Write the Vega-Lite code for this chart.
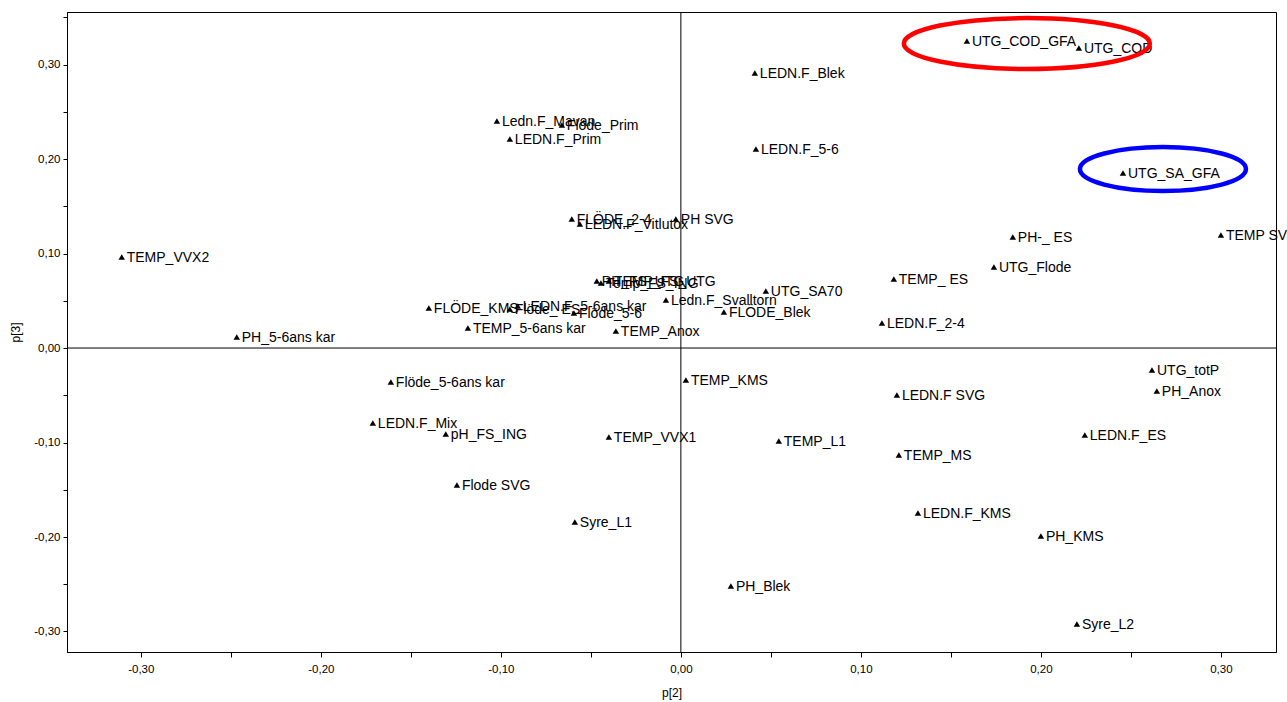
{
  "$schema": "https://vega.github.io/schema/vega-lite/v6.json",
  "width": 1209,
  "height": 640,
  "autosize": {"type": "none"},
  "padding": {"left": 67, "top": 12, "right": 11, "bottom": 50},
  "background": "white",
  "config": {
    "view": {"stroke": "black", "strokeWidth": 1},
    "font": "Liberation Sans",
    "axis": {
      "grid": false,
      "domainColor": "black",
      "tickColor": "black",
      "labelColor": "black",
      "titleColor": "black",
      "labelFont": "Liberation Sans",
      "titleFont": "Liberation Sans",
      "labelFontSize": 11.5,
      "titleFontSize": 12,
      "titleFontWeight": "normal"
    }
  },
  "datasets": {
    "loadings": [
      {"name": "UTG_COD_GFA", "p2": 0.1589, "p3": 0.3249},
      {"name": "UTG_COD", "p2": 0.2211, "p3": 0.3175},
      {"name": "LEDN.F_Blek", "p2": 0.0411, "p3": 0.2910},
      {"name": "Ledn.F_Mavan", "p2": -0.1022, "p3": 0.2402},
      {"name": "Flöde_Prim", "p2": -0.0661, "p3": 0.2360},
      {"name": "LEDN.F_Prim", "p2": -0.0950, "p3": 0.2212},
      {"name": "LEDN.F_5-6", "p2": 0.0417, "p3": 0.2106},
      {"name": "UTG_SA_GFA", "p2": 0.2456, "p3": 0.1852},
      {"name": "FLÖDE_2-4", "p2": -0.0606, "p3": 0.1365},
      {"name": "LEDN.F_Vitlutox", "p2": -0.0561, "p3": 0.1312},
      {"name": "PH SVG", "p2": -0.0028, "p3": 0.1365},
      {"name": "TEMP_VVX2", "p2": -0.3106, "p3": 0.0963},
      {"name": "PH-_ ES", "p2": 0.1844, "p3": 0.1175},
      {"name": "TEMP SVG", "p2": 0.3000, "p3": 0.1196},
      {"name": "UTG_Flode", "p2": 0.1739, "p3": 0.0857},
      {"name": "PH_FS_UTG", "p2": -0.0467, "p3": 0.0709},
      {"name": "TEMP_FS_UTG", "p2": -0.0400, "p3": 0.0709},
      {"name": "Temp_FS_ING", "p2": -0.0444, "p3": 0.0688},
      {"name": "UTG_SA70", "p2": 0.0472, "p3": 0.0603},
      {"name": "TEMP_ ES", "p2": 0.1183, "p3": 0.0730},
      {"name": "Ledn.F_Svalltorn", "p2": -0.0083, "p3": 0.0508},
      {"name": "FLÖDE_KMS", "p2": -0.1400, "p3": 0.0423},
      {"name": "Flöde_ ES", "p2": -0.0950, "p3": 0.0413},
      {"name": "LEDN.F_5-6ans kar", "p2": -0.0906, "p3": 0.0444},
      {"name": "Flöde_5-6", "p2": -0.0594, "p3": 0.0370},
      {"name": "FLÖDE_Blek", "p2": 0.0239, "p3": 0.0381},
      {"name": "TEMP_5-6ans kar", "p2": -0.1183, "p3": 0.0212},
      {"name": "TEMP_Anox", "p2": -0.0361, "p3": 0.0180},
      {"name": "LEDN.F_2-4", "p2": 0.1117, "p3": 0.0265},
      {"name": "PH_5-6ans kar", "p2": -0.2467, "p3": 0.0116},
      {"name": "UTG_totP", "p2": 0.2617, "p3": -0.0233},
      {"name": "PH_Anox", "p2": 0.2644, "p3": -0.0455},
      {"name": "Flöde_5-6ans kar", "p2": -0.1611, "p3": -0.0360},
      {"name": "TEMP_KMS", "p2": 0.0028, "p3": -0.0339},
      {"name": "LEDN.F SVG", "p2": 0.1200, "p3": -0.0497},
      {"name": "LEDN.F_Mix", "p2": -0.1711, "p3": -0.0794},
      {"name": "pH_FS_ING", "p2": -0.1306, "p3": -0.0910},
      {"name": "TEMP_VVX1", "p2": -0.0400, "p3": -0.0942},
      {"name": "TEMP_L1", "p2": 0.0544, "p3": -0.0984},
      {"name": "LEDN.F_ES", "p2": 0.2244, "p3": -0.0921},
      {"name": "TEMP_MS", "p2": 0.1211, "p3": -0.1132},
      {"name": "Flode SVG", "p2": -0.1244, "p3": -0.1450},
      {"name": "LEDN.F_KMS", "p2": 0.1317, "p3": -0.1746},
      {"name": "Syre_L1", "p2": -0.0589, "p3": -0.1841},
      {"name": "PH_KMS", "p2": 0.2000, "p3": -0.1989},
      {"name": "PH_Blek", "p2": 0.0278, "p3": -0.2519},
      {"name": "Syre_L2", "p2": 0.2200, "p3": -0.2921}
    ],
    "redRing": [{"p2": 0.1922, "p3": 0.3222}],
    "blueRing": [{"p2": 0.2678, "p3": 0.1894}],
    "origin": [{"p2": 0, "p3": 0}]
  },
  "layer": [
    {
      "data": {"name": "origin"},
      "mark": {"type": "rule", "color": "black", "strokeWidth": 1},
      "encoding": {
        "x": {
          "field": "p2", "type": "quantitative",
          "scale": {"domain": [-0.341, 0.3306], "nice": false, "zero": false},
          "axis": {
            "title": "p[2]",
            "values": [-0.3, -0.25, -0.2, -0.15, -0.1, -0.05, 0, 0.05, 0.1, 0.15, 0.2, 0.25, 0.3],
            "labelExpr": "abs(round(datum.value * 100)) % 10 == 0 ? (datum.value < -0.001 ? '-' : '') + replace(format(abs(datum.value), '.2f'), '.', ',') : ''",
            "tickSize": 5,
            "labelPadding": 6,
            "titleY": 40,
            "titleBaseline": "middle"
          }
        }
      }
    },
    {
      "data": {"name": "origin"},
      "mark": {"type": "rule", "color": "black", "strokeWidth": 1},
      "encoding": {
        "y": {
          "field": "p3", "type": "quantitative",
          "scale": {"domain": [-0.3217, 0.3556], "nice": false, "zero": false},
          "axis": {
            "title": "p[3]",
            "values": [-0.3, -0.25, -0.2, -0.15, -0.1, -0.05, 0, 0.05, 0.1, 0.15, 0.2, 0.25, 0.3, 0.35],
            "labelExpr": "abs(round(datum.value * 100)) % 10 == 0 ? (datum.value < -0.001 ? '-' : '') + replace(format(abs(datum.value), '.2f'), '.', ',') : ''",
            "tickSize": 4,
            "labelPadding": 3,
            "titleX": -52,
            "titleBaseline": "middle"
          }
        }
      }
    },
    {
      "data": {"name": "loadings"},
      "mark": {"type": "point", "shape": "triangle-up", "filled": true, "color": "black", "size": 42, "opacity": 1, "clip": true},
      "encoding": {
        "x": {"field": "p2", "type": "quantitative"},
        "y": {"field": "p3", "type": "quantitative"}
      }
    },
    {
      "data": {"name": "loadings"},
      "mark": {"type": "text", "align": "left", "baseline": "middle", "dx": 5, "dy": 1, "fontSize": 14, "font": "Liberation Sans", "color": "black"},
      "encoding": {
        "x": {"field": "p2", "type": "quantitative"},
        "y": {"field": "p3", "type": "quantitative"},
        "text": {"field": "name"}
      }
    },
    {
      "data": {"name": "redRing"},
      "mark": {
        "type": "point", "filled": false, "stroke": "#ff0000", "strokeWidth": 4.5, "opacity": 1, "clip": true,
        "size": 60516,
        "shape": "M-1,0C-1,-0.1143,-0.5523,-0.207,0,-0.207C0.5523,-0.207,1,-0.1143,1,0C1,0.1143,0.5523,0.207,0,0.207C-0.5523,0.207,-1,0.1143,-1,0Z"
      },
      "encoding": {
        "x": {"field": "p2", "type": "quantitative"},
        "y": {"field": "p3", "type": "quantitative"}
      }
    },
    {
      "data": {"name": "blueRing"},
      "mark": {
        "type": "point", "filled": false, "stroke": "#0000ff", "strokeWidth": 4.5, "opacity": 1, "clip": true,
        "size": 27556,
        "shape": "M-1,0C-1,-0.1464,-0.5523,-0.265,0,-0.265C0.5523,-0.265,1,-0.1464,1,0C1,0.1464,0.5523,0.265,0,0.265C-0.5523,0.265,-1,0.1464,-1,0Z"
      },
      "encoding": {
        "x": {"field": "p2", "type": "quantitative"},
        "y": {"field": "p3", "type": "quantitative"}
      }
    }
  ]
}
